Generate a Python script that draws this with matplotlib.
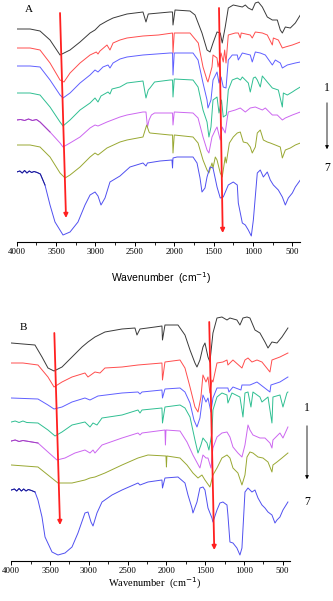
import numpy as np
import matplotlib
matplotlib.use("Agg")
import matplotlib.pyplot as plt
from matplotlib.ticker import MultipleLocator

# FT-IR spectra, offsets in px-height units above the x axis
# ---------- panel A ----------
A1 = [(4000, 213), (3830, 213), (3704, 211), (3577, 202), (3450, 187), (3323, 192), (3196, 200),
      (3069, 209), (3006, 212), (2943, 217), (2854, 221), (2777, 224), (2689, 226), (2600, 228),
      (2397, 230), (2359, 220), (2330, 228), (2054, 230), (2022, 230), (2016, 217), (1990, 232),
      (1800, 231), (1736, 227), (1648, 209), (1584, 192), (1546, 190), (1508, 199), (1457, 210),
      (1416, 209), (1391, 199), (1353, 215), (1314, 234), (1251, 237), (1136, 235), (1098, 237),
      (1060, 234), (1010, 232), (971, 239), (933, 240), (882, 235), (819, 225), (755, 222),
      (692, 222), (654, 212), (628, 209), (590, 215), (527, 214), (463, 219), (400, 227)]
A2 = [(4000, 194), (3830, 194), (3704, 192), (3577, 179), (3450, 162), (3400, 160), (3323, 169),
      (3196, 179), (3069, 187), (2990, 190), (2968, 188), (2943, 191), (2854, 197), (2816, 192),
      (2777, 199), (2689, 202), (2600, 204), (2397, 206), (2200, 207), (2022, 209), (2016, 189),
      (2000, 209), (1800, 209), (1695, 199), (1635, 175), (1584, 162), (1572, 160), (1521, 175),
      (1508, 187), (1457, 184), (1444, 175), (1406, 189), (1378, 180), (1360, 192), (1343, 179),
      (1314, 207), (1226, 209), (1187, 209), (1162, 204), (1150, 209), (1035, 207), (1010, 204),
      (971, 210), (882, 209), (819, 207), (755, 197), (742, 204), (679, 202), (628, 194),
      (590, 195), (501, 197), (400, 200)]
A3 = [(4000, 176), (3830, 176), (3704, 175), (3577, 162), (3450, 147), (3412, 144), (3323, 149),
      (3196, 159), (3069, 167), (3006, 172), (2968, 170), (2905, 175), (2841, 177), (2816, 174),
      (2777, 179), (2689, 183), (2600, 185), (2397, 187), (2054, 189), (2022, 189), (2016, 167),
      (2000, 189), (1762, 189), (1698, 182), (1635, 159), (1584, 142), (1572, 134), (1534, 142),
      (1508, 162), (1457, 170), (1432, 159), (1406, 165), (1378, 155), (1343, 154), (1314, 182),
      (1264, 187), (1200, 187), (1187, 182), (1136, 189), (1035, 187), (1010, 180), (971, 190),
      (908, 189), (844, 187), (755, 177), (717, 182), (654, 179), (628, 174), (565, 177),
      (463, 179), (400, 180)]
A4 = [(4000, 149), (3830, 149), (3704, 147), (3577, 135), (3450, 120), (3412, 116), (3323, 122),
      (3196, 132), (3069, 139), (3006, 144), (2968, 140), (2930, 146), (2841, 150), (2816, 148),
      (2790, 153), (2689, 155), (2600, 159), (2397, 161), (2359, 144), (2330, 152), (2308, 154),
      (2250, 160), (2054, 162), (2022, 162), (2016, 145), (2000, 163), (1762, 162), (1698, 155),
      (1635, 132), (1584, 120), (1560, 105), (1534, 115), (1508, 142), (1457, 145), (1432, 129),
      (1400, 142), (1378, 125), (1340, 127), (1314, 152), (1264, 162), (1200, 164), (1160, 162),
      (1136, 165), (1060, 159), (1035, 150), (996, 164), (971, 165), (946, 162), (908, 155),
      (882, 166), (819, 160), (755, 154), (679, 152), (628, 135), (615, 149), (565, 147),
      (501, 150), (463, 152), (400, 155)]
A5 = [(4000, 122), (3950, 122.5), (3900, 121.5), (3850, 123), (3800, 121.5), (3750, 122.5),
      (3704, 120), (3577, 110), (3450, 99), (3412, 95), (3323, 99), (3196, 105), (3069, 114),
      (3006, 117), (2968, 116), (2854, 120), (2689, 125), (2600, 127), (2397, 130), (2359, 130),
      (2340, 115), (2320, 122), (2290, 127), (2250, 129), (2054, 129), (2022, 129), (2016, 117),
      (2000, 130), (1762, 129), (1698, 124), (1635, 105), (1584, 92), (1560, 89), (1521, 105),
      (1479, 112), (1457, 115), (1416, 102), (1391, 115), (1353, 109), (1327, 124), (1314, 130),
      (1226, 132), (1162, 134), (1098, 130), (1035, 134), (971, 135), (882, 132), (844, 134),
      (755, 127), (692, 127), (628, 122), (590, 124), (501, 127), (400, 130)]
A6 = [(4000, 97), (3830, 97), (3704, 95), (3577, 85), (3450, 69), (3386, 64), (3323, 67),
      (3196, 75), (3069, 85), (3006, 89), (2968, 87), (2854, 94), (2689, 100), (2600, 102),
      (2397, 105), (2350, 117), (2320, 110), (2308, 109), (2054, 107), (2022, 107), (2016, 89),
      (2000, 107), (1762, 105), (1698, 99), (1635, 82), (1584, 72), (1560, 69), (1521, 79),
      (1508, 74), (1479, 85), (1457, 82), (1416, 69), (1391, 65), (1353, 85), (1340, 79),
      (1300, 99), (1251, 105), (1200, 109), (1162, 110), (1124, 100), (1073, 99), (1035, 95),
      (1010, 89), (971, 95), (946, 109), (908, 112), (869, 102), (819, 100), (781, 99),
      (717, 97), (654, 95), (628, 84), (590, 92), (527, 94), (463, 97), (400, 99)]
A7 = [(4000, 70), (3960, 71), (3930, 69), (3900, 71.5), (3870, 69), (3840, 71), (3810, 69.5),
      (3780, 70.5), (3740, 69.5), (3700, 68), (3641, 57), (3577, 37), (3514, 20), (3412, 7),
      (3323, 10), (3222, 20), (3133, 37), (3069, 47), (3006, 50), (2968, 46), (2930, 37),
      (2879, 44), (2816, 60), (2689, 66), (2562, 75), (2397, 79), (2359, 76), (2340, 79),
      (2181, 81), (2029, 82), (2022, 74), (2016, 84), (1965, 85), (1762, 85), (1711, 79),
      (1673, 64), (1648, 50), (1610, 54), (1584, 65), (1546, 75), (1508, 74), (1457, 55),
      (1416, 44), (1378, 45), (1314, 57), (1251, 60), (1200, 57), (1187, 39), (1136, 19),
      (1098, 17), (1060, 12), (1022, 6), (996, 22), (946, 69), (908, 72), (869, 65),
      (819, 70), (781, 62), (742, 57), (679, 52), (628, 45), (590, 37), (552, 44), (501, 49),
      (463, 55), (400, 62)]

# ---------- panel B ----------
B1 = [(4000, 218), (3850, 217), (3695, 216), (3604, 204), (3527, 193), (3449, 190), (3346, 194),
      (3217, 204), (3088, 214), (3011, 219), (2921, 224), (2792, 229), (2572, 232), (2405, 233),
      (2379, 226), (2340, 232), (2147, 234), (2057, 235), (2050, 221), (2018, 236), (1850, 236),
      (1760, 226), (1695, 211), (1631, 198), (1605, 194), (1567, 201), (1528, 214), (1502, 218),
      (1463, 204), (1438, 199), (1399, 228), (1347, 243), (1283, 244), (1218, 241), (1180, 243),
      (1090, 241), (1051, 236), (1012, 243), (960, 244), (922, 243), (857, 231), (793, 228),
      (728, 219), (689, 213), (638, 219), (573, 218), (509, 224), (432, 233)]
B2 = [(4000, 198), (3850, 198), (3656, 196), (3527, 184), (3449, 174), (3346, 179), (3217, 184),
      (3050, 188), (3011, 184), (2921, 189), (2856, 188), (2792, 193), (2572, 194), (2366, 196),
      (2057, 198), (2050, 181), (2018, 199), (1824, 201), (1760, 193), (1695, 174), (1631, 154),
      (1592, 149), (1554, 164), (1528, 186), (1489, 179), (1463, 184), (1438, 168), (1412, 181),
      (1399, 179), (1347, 198), (1270, 199), (1218, 201), (1206, 196), (1141, 201), (1025, 193),
      (986, 201), (947, 203), (896, 199), (831, 201), (767, 199), (664, 189), (638, 201),
      (535, 204), (432, 208)]
B3 = [(4000, 163), (3656, 162), (3527, 156), (3449, 152), (3346, 154), (3217, 159), (3050, 163),
      (2985, 161), (2882, 165), (2572, 168), (2366, 169), (2340, 167), (2314, 169), (2057, 171),
      (2050, 163), (2018, 172), (1824, 173), (1760, 169), (1695, 158), (1644, 141), (1605, 134),
      (1567, 143), (1528, 166), (1489, 159), (1463, 163), (1425, 149), (1399, 163), (1347, 173),
      (1206, 173), (1193, 169), (1141, 174), (1038, 171), (1025, 176), (922, 176), (831, 179),
      (664, 169), (651, 176), (535, 179), (432, 184)]
B4 = [(4000, 139), (3950, 140), (3900, 138.5), (3850, 140), (3800, 138.5), (3656, 138),
      (3527, 131), (3436, 125), (3346, 129), (3217, 136), (3050, 139), (2985, 134), (2946, 138),
      (2895, 136), (2830, 143), (2572, 146), (2366, 151), (2340, 148), (2314, 151), (2057, 153),
      (2050, 138), (2018, 154), (1824, 156), (1760, 153), (1695, 144), (1631, 121), (1592, 108),
      (1554, 116), (1528, 123), (1476, 118), (1451, 111), (1412, 128), (1399, 151), (1347, 164),
      (1283, 168), (1218, 166), (1206, 158), (1154, 168), (1051, 164), (1025, 151), (1012, 144),
      (986, 168), (947, 169), (909, 154), (883, 169), (793, 164), (767, 159), (689, 164),
      (638, 138), (625, 164), (535, 166), (496, 154), (445, 168), (432, 169)]
B5 = [(4000, 120), (3950, 121), (3900, 119.5), (3850, 120.5), (3656, 118), (3527, 109),
      (3411, 101), (3307, 103), (3179, 108), (3050, 111), (2985, 108), (2946, 111), (2921, 108),
      (2830, 116), (2572, 123), (2366, 128), (2340, 126), (2314, 128), (2018, 131), (2012, 116),
      (2005, 131), (1824, 130), (1734, 119), (1657, 106), (1567, 93), (1528, 106), (1489, 103),
      (1463, 103), (1425, 93), (1399, 113), (1347, 124), (1283, 128), (1218, 129), (1180, 124),
      (1141, 114), (1077, 108), (1025, 104), (986, 116), (947, 136), (922, 131), (883, 126),
      (793, 123), (728, 123), (664, 118), (638, 113), (625, 121), (535, 128), (496, 123),
      (432, 134)]
B6 = [(4000, 96), (3656, 94), (3527, 86), (3398, 78), (3217, 78), (3050, 81), (2985, 83),
      (2921, 84), (2792, 88), (2572, 96), (2366, 103), (2237, 106), (2005, 105), (1999, 94),
      (1993, 105), (1824, 103), (1734, 96), (1657, 88), (1592, 83), (1541, 86), (1502, 81),
      (1438, 74), (1399, 86), (1347, 93), (1283, 103), (1218, 106), (1180, 103), (1141, 93),
      (1077, 88), (1025, 76), (986, 86), (960, 104), (922, 109), (883, 108), (818, 104),
      (754, 103), (689, 99), (638, 89), (625, 96), (573, 99), (509, 103), (432, 108)]
B7 = [(4000, 71), (3960, 72), (3930, 70), (3900, 72.5), (3870, 70), (3840, 72), (3810, 70),
      (3780, 71.5), (3740, 70.5), (3694, 69), (3656, 61), (3604, 44), (3565, 24), (3475, 9),
      (3398, 6), (3307, 8), (3217, 14), (3140, 28), (3050, 48), (3011, 49), (2972, 39),
      (2946, 35), (2895, 48), (2830, 59), (2701, 66), (2572, 71), (2366, 78), (2340, 76),
      (2237, 79), (2057, 81), (2050, 73), (2018, 83), (1850, 84), (1760, 78), (1721, 66),
      (1670, 53), (1657, 48), (1605, 59), (1567, 73), (1528, 74), (1502, 71), (1463, 53),
      (1412, 43), (1399, 39), (1347, 51), (1309, 58), (1270, 59), (1218, 56), (1206, 46),
      (1180, 19), (1141, 18), (1090, 13), (1051, 6), (1025, 13), (986, 69), (947, 73),
      (896, 69), (857, 71), (818, 63), (767, 56), (728, 53), (689, 49), (638, 46), (599, 38),
      (573, 41), (535, 44), (496, 51), (432, 59)]

# red guide arrows: (start wn, start h, end wn, end h)
A_ARROWS = [(3450, 229, 3374, 24), (1432, 234, 1385, 9)]
B_ARROWS = [(3445, 228, 3372, 36), (1447, 239, 1382, 11)]

COLORS = ["#3a3a3a", "#ff4d4d", "#5f5fff", "#2fbf92", "#cc66f0", "#99a832", "#5050f0"]
NOISE = [None, None, None, None, "#a040c0", None, "#1a1a90"]

W, H = 333, 601
fig = plt.figure(figsize=(W / 100, H / 100), dpi=100)


def add_panel(left, right, top, bottom, curves, arrows, letter, xlab_font, lab_y):
    ax = fig.add_axes([left / W, 1 - bottom / H, (right - left) / W, (bottom - top) / H])
    for i, c in enumerate(curves):
        wn = [p[0] for p in c]
        h = [p[1] for p in c]
        ax.plot(wn, h, color=COLORS[i], lw=0.7)
        if NOISE[i] is not None:
            k = sum(1 for w in wn if w >= 3700)
            ax.plot(wn[:k + 1], h[:k + 1], color=NOISE[i], lw=0.7)
    for x0, y0, x1, y1 in arrows:
        ax.annotate("", xy=(x1, y1), xytext=(x0, y0),
                    arrowprops=dict(arrowstyle="-|>", color="#ff2020", lw=1.3,
                                    mutation_scale=6, shrinkA=0, shrinkB=0))
    ax.set_xlim(4000, 400)
    ax.set_ylim(0, bottom - top)
    for s in ["top", "right", "left"]:
        ax.spines[s].set_visible(False)
    ax.spines["bottom"].set_linewidth(0.8)
    ax.set_yticks([])
    ax.xaxis.set_major_locator(MultipleLocator(500))
    ax.xaxis.set_minor_locator(MultipleLocator(250))
    ax.tick_params(axis="x", which="major", length=3, width=0.7, pad=1.5)
    ax.tick_params(axis="x", which="minor", length=2, width=0.6)
    for t in ax.get_xticklabels():
        t.set_fontfamily("Liberation Serif")
        t.set_fontsize(6.4)
    ax.text(0.03, 1 - 10 / (bottom - top) if top == 0 else 1 - 27 / (bottom - top), letter,
            transform=ax.transAxes, fontsize=8, fontfamily="Liberation Serif",
            ha="left", va="center")
    fig.text((left + right) / 2 / W + 0.01, 1 - lab_y / H,
             r"Wavenumber  (cm$^{-1}$)", ha="center", va="center",
             fontsize=7.5, fontfamily=xlab_font)
    return ax


add_panel(16.7, 300.3, 0, 242, [A1, A2, A3, A4, A5, A6, A7], A_ARROWS, "A",
          "Liberation Sans", 278)
add_panel(11.3, 290.4, 300, 561, [B1, B2, B3, B4, B5, B6, B7], B_ARROWS, "B",
          "Liberation Serif", 583)

# right-side "1 -> 7" sequence markers
for xpx, y1, ya0, ya1, y7 in [(327, 88, 100, 152, 168), (307, 408, 423, 482, 502)]:
    fig.text(xpx / W, 1 - y1 / H, "1", ha="center", va="center", fontsize=8.5,
             fontfamily="Liberation Serif")
    fig.text(xpx / W, 1 - y7 / H, "7", ha="center", va="center", fontsize=8.5,
             fontfamily="Liberation Serif")
    fig.add_artist(matplotlib.patches.FancyArrowPatch(
        (xpx / W, 1 - ya0 / H), (xpx / W, 1 - ya1 / H), transform=fig.transFigure,
        arrowstyle="-|>", mutation_scale=5, lw=0.6, color="black"))

fig.savefig("out.png", dpi=100, facecolor="white")
